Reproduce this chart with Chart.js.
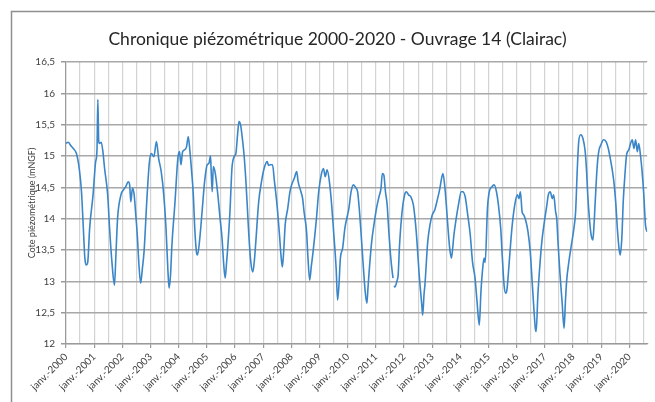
<!DOCTYPE html>
<html lang="fr">
<head>
<meta charset="utf-8">
<script src="https://cdn.jsdelivr.net/npm/chart.js@4/dist/chart.umd.min.js"></script>
<style>
  html, body { margin: 0; padding: 0; background: #ffffff; }
  #wrap { width: 655px; height: 402px; position: relative; }
</style>
</head>
<body>
<div id="wrap"><canvas id="chart" width="655" height="402"></canvas></div>
<script>
// Relevés piézométriques, Ouvrage 14 (Clairac): date en années décimales, cote en mNGF
const dates = [
  2000.00, 2000.08, 2000.16, 2000.26, 2000.37, 2000.47, 2000.55, 2000.61, 2000.67, 2000.72,
  2000.77, 2000.84, 2000.96, 2001.05, 2001.10, 2001.13, 2001.16, 2001.19, 2001.25, 2001.31,
  2001.37, 2001.48, 2001.54, 2001.63, 2001.72, 2001.77, 2001.83, 2001.95, 2002.04, 2002.12,
  2002.21, 2002.26, 2002.30, 2002.36, 2002.42, 2002.47, 2002.53, 2002.59, 2002.65, 2002.71,
  2002.77, 2002.88, 2002.96, 2003.03, 2003.12, 2003.21, 2003.29, 2003.38, 2003.47, 2003.55,
  2003.62, 2003.66, 2003.71, 2003.76, 2003.87, 2003.97, 2004.03, 2004.08, 2004.14, 2004.22,
  2004.28, 2004.34, 2004.40, 2004.46, 2004.52, 2004.57, 2004.63, 2004.67, 2004.75, 2004.83,
  2004.92, 2005.01, 2005.07, 2005.13, 2005.15, 2005.19, 2005.23, 2005.30, 2005.39, 2005.47,
  2005.54, 2005.60, 2005.65, 2005.70, 2005.74, 2005.82, 2005.89, 2005.97, 2006.03, 2006.09,
  2006.14, 2006.20, 2006.26, 2006.32, 2006.38, 2006.44, 2006.49, 2006.56, 2006.63, 2006.68,
  2006.73, 2006.84, 2006.94, 2007.02, 2007.14, 2007.19, 2007.25, 2007.33, 2007.40, 2007.49,
  2007.57, 2007.64, 2007.68, 2007.73, 2007.78, 2007.87, 2007.95, 2008.01, 2008.10, 2008.19,
  2008.24, 2008.34, 2008.40, 2008.45, 2008.54, 2008.59, 2008.65, 2008.71, 2008.77, 2008.89,
  2008.97, 2009.06, 2009.14, 2009.20, 2009.27, 2009.35, 2009.43, 2009.50, 2009.59, 2009.64,
  2009.69, 2009.74, 2009.82, 2009.90, 2009.99, 2010.04, 2010.12, 2010.20, 2010.29, 2010.35,
  2010.41, 2010.47, 2010.55, 2010.62, 2010.68, 2010.72, 2010.76, 2010.85, 2010.93, 2011.02,
  2011.11, 2011.18, 2011.23, 2011.28, 2011.34, 2011.40, 2011.46, 2011.52, 2011.58, 2011.61,
  2011.63, 2011.65, 2011.67, 2011.75, 2011.79, 2011.84, 2011.93, 2012.02, 2012.08, 2012.16,
  2012.24, 2012.33, 2012.39, 2012.45, 2012.53, 2012.63, 2012.66, 2012.71, 2012.74, 2012.84,
  2012.92, 2013.00, 2013.09, 2013.19, 2013.27, 2013.33, 2013.38, 2013.44, 2013.50, 2013.56,
  2013.62, 2013.68, 2013.72, 2013.77, 2013.85, 2013.93, 2014.03, 2014.08, 2014.17, 2014.26,
  2014.35, 2014.43, 2014.52, 2014.59, 2014.67, 2014.73, 2014.78, 2014.84, 2014.88, 2014.96,
  2015.02, 2015.12, 2015.20, 2015.28, 2015.35, 2015.43, 2015.49, 2015.55, 2015.61, 2015.65,
  2015.69, 2015.76, 2015.84, 2015.93, 2016.02, 2016.08, 2016.13, 2016.19, 2016.25, 2016.33,
  2016.40, 2016.48, 2016.54, 2016.60, 2016.66, 2016.69, 2016.75, 2016.83, 2016.89, 2016.98,
  2017.07, 2017.12, 2017.19, 2017.26, 2017.31, 2017.38, 2017.42, 2017.47, 2017.53, 2017.61,
  2017.68, 2017.73, 2017.77, 2017.85, 2017.94, 2018.03, 2018.09, 2018.15, 2018.20, 2018.27,
  2018.35, 2018.43, 2018.48, 2018.52, 2018.58, 2018.64, 2018.70, 2018.73, 2018.78, 2018.85,
  2018.91, 2018.99, 2019.08, 2019.17, 2019.25, 2019.34, 2019.40, 2019.46, 2019.52, 2019.57,
  2019.63, 2019.67, 2019.73, 2019.78, 2019.84, 2019.90, 2019.98, 2020.04, 2020.10, 2020.16,
  2020.22, 2020.28, 2020.33, 2020.39, 2020.45, 2020.51, 2020.57, 2020.63
];

const levels = [
  15.20, 15.22, 15.17, 15.12, 15.04, 14.80, 14.43, 13.90, 13.37, 13.26,
  13.30, 13.85, 14.38, 14.90, 15.10, 15.90, 15.25, 15.20, 15.22, 15.07,
  14.80, 14.38, 13.90, 13.31, 12.94, 13.40, 14.00, 14.38, 14.46, 14.51,
  14.59, 14.54, 14.27, 14.49, 14.38, 14.10, 13.74, 13.26, 12.97, 13.20,
  13.47, 14.38, 14.90, 15.04, 14.99, 15.23, 14.96, 14.75, 14.38, 13.85,
  13.15, 12.89, 13.10, 13.58, 14.27, 14.96, 15.07, 14.86, 15.07, 15.10,
  15.15, 15.31, 15.07, 14.75, 14.38, 13.85, 13.47, 13.42, 13.69, 14.11,
  14.59, 14.86, 14.88, 15.00, 14.80, 14.43, 14.83, 14.72, 14.38, 14.00,
  13.68, 13.26, 13.05, 13.30, 13.53, 14.11, 14.80, 14.99, 15.04, 15.34,
  15.55, 15.49, 15.28, 15.02, 14.64, 14.16, 13.74, 13.31, 13.15, 13.30,
  13.58, 14.27, 14.59, 14.78, 14.91, 14.85, 14.86, 14.86, 14.59, 14.22,
  13.79, 13.37, 13.23, 13.50, 13.90, 14.16, 14.43, 14.54, 14.64, 14.75,
  14.59, 14.43, 14.32, 14.11, 13.79, 13.37, 13.02, 13.25, 13.47, 14.00,
  14.43, 14.70, 14.80, 14.67, 14.78, 14.59, 14.22, 13.79, 13.20, 12.70,
  12.95, 13.37, 13.53, 13.85, 14.05, 14.16, 14.43, 14.54, 14.49, 14.43,
  14.16, 13.79, 13.26, 12.84, 12.65, 12.90, 13.15, 13.63, 13.90, 14.16,
  14.35, 14.48, 14.72, 14.70, 14.43, 14.22, 13.79, 13.42, 13.15, 13.05,
  null,  12.93, 12.91, 13.01, 13.10, 13.58, 14.11, 14.38, 14.43, 14.38,
  14.35, 14.22, 14.00, 13.69, 13.15, 12.62, 12.46, 12.80, 12.94, 13.63,
  13.90, 14.06, 14.14, 14.32, 14.48, 14.64, 14.72, 14.54, 14.22, 13.85,
  13.53, 13.37, 13.50, 13.74, 14.00, 14.22, 14.43, 14.43, 14.35, 14.06,
  13.74, 13.31, 13.05, 12.68, 12.30, 12.84, 13.15, 13.37, 13.30, 14.16,
  14.42, 14.51, 14.54, 14.43, 14.22, 13.85, 13.37, 12.94, 12.81, 12.86,
  13.05, 13.47, 13.90, 14.22, 14.38, 14.32, 14.43, 14.11, 14.06, 13.95,
  13.79, 13.47, 13.05, 12.62, 12.25, 12.20, 12.78, 13.31, 13.63, 13.95,
  14.22, 14.38, 14.43, 14.32, 14.38, 14.11, 14.00, 13.58, 13.15, 12.67,
  12.25, 12.70, 13.00, 13.31, 13.58, 13.85, 14.11, 14.80, 15.23, 15.34,
  15.28, 15.07, 14.75, 14.38, 14.00, 13.74, 13.66, 13.80, 14.22, 14.80,
  15.07, 15.18, 15.26, 15.23, 15.12, 14.91, 14.75, 14.54, 14.22, 13.85,
  13.53, 13.42, 13.69, 14.27, 14.70, 15.02, 15.10, 15.20, 15.26, 15.12,
  15.26, 15.07, 15.20, 15.02, 14.75, 14.38, 13.90, 13.79
];

// Axe vertical (mNGF) et axe des temps
const yMin = 12, yMax = 16.5, yStep = 0.5;
const xStart = 2000, xEnd = 2020.63, xStep = 0.5;
const monthLabel = 'janv.-';

const points = dates.map((d, i) => ({ x: d, y: levels[i] }));

// Cadre gris autour du graphique
const framePlugin = {
  id: 'frame',
  beforeDraw(chart) {
    const ctx = chart.ctx;
    ctx.save();
    ctx.fillStyle = '#ffffff';
    ctx.fillRect(0, 0, chart.width, chart.height);
    ctx.strokeStyle = '#8f8f8f';
    ctx.lineWidth = 1.5;
    ctx.strokeRect(11.5, 11.5, 900, 900);
    ctx.restore();
  }
};

const isYear = v => Math.abs(v - Math.round(v)) < 1e-6;

new Chart(document.getElementById('chart'), {
  type: 'line',
  data: {
    datasets: [{
      data: points,
      borderColor: '#3a86c8',
      borderWidth: 1.6,
      pointRadius: 0,
      tension: 0.3,
      cubicInterpolationMode: 'monotone',
      spanGaps: false,
      fill: false
    }]
  },
  options: {
    responsive: false,
    animation: false,
    devicePixelRatio: 1,
    layout: { padding: { left: 20, right: 0, top: 0, bottom: 0 } },
    plugins: {
      legend: { display: false },
      tooltip: { enabled: false },
      title: {
        display: true,
        text: 'Chronique piézométrique 2000-2020 - Ouvrage 14 (Clairac)',
        color: '#262626',
        font: { family: 'Lato', size: 17.5, weight: 'normal' },
        padding: { top: 29, bottom: 12 }
      }
    },
    scales: {
      x: {
        type: 'linear',
        min: xStart,
        max: xEnd,
        afterFit(scale) { scale.height = 58; },
        ticks: {
          stepSize: xStep,
          includeBounds: false,
          autoSkip: false,
          maxRotation: 45,
          minRotation: 45,
          padding: 3,
          color: '#404040',
          font: { family: 'Lato', size: 10 },
          callback: v => isYear(v) ? monthLabel + Math.round(v) : ''
        },
        grid: {
          color: '#d3d3d3',
          lineWidth: 1.2,
          tickLength: 4,
          tickColor: ctx => (ctx.tick && isYear(ctx.tick.value)) ? '#9a9a9a' : 'rgba(0,0,0,0)'
        },
        border: { color: '#9a9a9a', width: 1.2 }
      },
      y: {
        min: yMin,
        max: yMax,
        afterFit(scale) { scale.width = 46; },
        ticks: {
          stepSize: yStep,
          padding: 6,
          color: '#404040',
          font: { family: 'Lato', size: 10 },
          callback: v => String(v).replace('.', ',')
        },
        grid: {
          color: '#a8a8a8',
          lineWidth: 1.5,
          tickLength: 5,
          tickColor: '#9a9a9a'
        },
        border: { color: '#9a9a9a', width: 1.2 },
        title: {
          display: true,
          text: 'Cote piézométrique (mNGF)',
          color: '#404040',
          font: { family: 'Lato', size: 9 },
          padding: { top: 7, bottom: 0 }
        }
      }
    }
  },
  plugins: [framePlugin]
});
</script>
</body>
</html>
